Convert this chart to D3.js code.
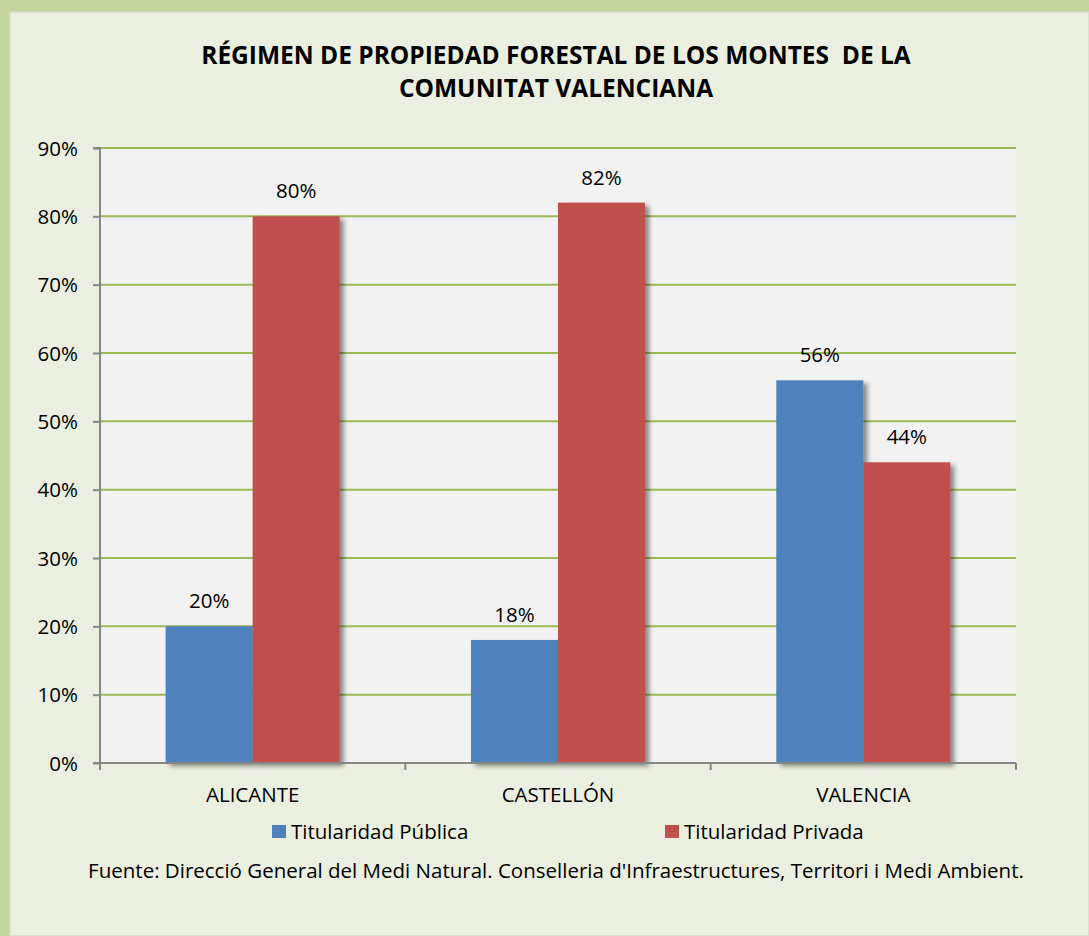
<!DOCTYPE html>
<html><head><meta charset="utf-8">
<script src="https://cdn.jsdelivr.net/npm/d3@7"></script>
<style>body{margin:0;background:#c3d69b;} svg{display:block;font-family:"Open Sans",sans-serif;}</style>
</head><body>
<script>
const categories = ["ALICANTE", "CASTELLÓN", "VALENCIA"];
const seriesNames = ["Titularidad Pública", "Titularidad Privada"];
const publica = [20, 18, 56];
const privada = [80, 82, 44];
const yTicks = [0, 10, 20, 30, 40, 50, 60, 70, 80, 90];
const titleLines = ["RÉGIMEN DE PROPIEDAD FORESTAL DE LOS MONTES  DE LA", "COMUNITAT VALENCIANA"];
const source = "Fuente: Direcció General del Medi Natural. Conselleria d'Infraestructures, Territori i Medi Ambient.";
const colors = ["#4f81bd", "#c0504d"];

const W = 1089, H = 936;
const FS = 20.5;
const svg = d3.select("body").append("svg").attr("width", W).attr("height", H);
const defs = svg.append("defs");
const f = defs.append("filter").attr("id","sh").attr("x","-20%").attr("y","-20%").attr("width","150%").attr("height","150%");
f.append("feGaussianBlur").attr("in","SourceAlpha").attr("stdDeviation",2.5).attr("result","b");
f.append("feOffset").attr("in","b").attr("dx",4).attr("dy",3).attr("result","o");
f.append("feComponentTransfer").attr("in","o").attr("result","o2").append("feFuncA").attr("type","linear").attr("slope",0.45);
const m = f.append("feMerge"); m.append("feMergeNode").attr("in","o2"); m.append("feMergeNode").attr("in","SourceGraphic");

svg.append("rect").attr("width",W).attr("height",H).attr("fill","#c3d69b");
svg.append("rect").attr("x",10).attr("y",12).attr("width",W-10).attr("height",H-12).attr("fill","#ebefdf").attr("stroke","#d6dacb").attr("stroke-width",1.5);

const plot = {l:100, r:1016, t:148, b:763};
svg.append("rect").attr("x",plot.l).attr("y",plot.t).attr("width",plot.r-plot.l).attr("height",plot.b-plot.t).attr("fill","#f2f2f2");

const y = d3.scaleLinear().domain([0,90]).range([plot.b, plot.t]);
const x0 = d3.scaleBand().domain(categories).range([plot.l, plot.r]).paddingInner(0).paddingOuter(0);
const groupPad = 0.215;
const x1 = d3.scaleBand().domain([0,1]).range([x0.bandwidth()*groupPad, x0.bandwidth()*(1-groupPad)]);

// gridlines
svg.append("g").selectAll("line").data(yTicks.filter(d=>d>0)).join("line")
  .attr("x1",plot.l).attr("x2",plot.r).attr("y1",d=>y(d)).attr("y2",d=>y(d))
  .attr("stroke","#9bbb59").attr("stroke-width",2);

// bars
const data = categories.map((c,i)=>({c, v:[publica[i], privada[i]]}));
const g = svg.append("g");
data.forEach(d=>{
  d.v.forEach((v,j)=>{
    g.append("rect").attr("x",x0(d.c)+x1(j)).attr("y",y(v)).attr("width",x1.bandwidth()).attr("height",y(0)-y(v))
      .attr("fill",colors[j]).attr("filter","url(#sh)");
  });
});
data.forEach(d=>{
  d.v.forEach((v,j)=>{
    svg.append("text").attr("x",x0(d.c)+x1(j)+x1.bandwidth()/2).attr("y",y(v)-18)
      .attr("text-anchor","middle").attr("font-size",FS).attr("fill","#000").text(v+"%");
  });
});

// y axis
const yAxis = d3.axisLeft(y).tickValues(yTicks).tickFormat(d=>d+"%").tickSize(7).tickPadding(15);
const ya = svg.append("g").attr("transform",`translate(${plot.l},0)`).call(yAxis);
ya.select(".domain").attr("stroke","#868686").attr("stroke-width",2).attr("d",`M-7,${plot.t}H0V${plot.b}H-7`);
ya.selectAll(".tick line").attr("stroke","#868686").attr("stroke-width",2);
ya.selectAll(".tick text").attr("font-size",FS).attr("fill","#000").attr("font-family","'Open Sans',sans-serif").attr("dy","0.35em");

// x axis
const xa = svg.append("g").attr("transform",`translate(0,${plot.b})`);
xa.append("line").attr("x1",plot.l).attr("x2",plot.r).attr("stroke","#868686").attr("stroke-width",2);
const bounds = [plot.l, ...categories.map(c=>x0(c)+x0.bandwidth())];
xa.selectAll("line.t").data(bounds).join("line").attr("class","t").attr("x1",d=>d).attr("x2",d=>d).attr("y1",0).attr("y2",7).attr("stroke","#868686").attr("stroke-width",2);
xa.selectAll("text").data(categories).join("text").attr("x",d=>x0(d)+x0.bandwidth()/2).attr("y",39)
  .attr("text-anchor","middle").attr("font-size",FS).attr("fill","#000").text(d=>d);

// title
svg.append("g").selectAll("text").data(titleLines).join("text")
  .attr("x",556).attr("y",(d,i)=>64+i*33).attr("text-anchor","middle").attr("font-weight","bold").attr("font-size",24.5)
  .attr("fill","#000").attr("xml:space","preserve").text(d=>d);

// legend
const legX = [272, 665];
seriesNames.forEach((s,i)=>{
  svg.append("rect").attr("x",legX[i]).attr("y",825).attr("width",14).attr("height",13).attr("fill",colors[i]);
  svg.append("text").attr("x",legX[i]+19).attr("y",838.5).attr("font-size",FS).attr("fill","#000").text(s);
});

// source
svg.append("text").attr("x",556).attr("y",878).attr("text-anchor","middle").attr("font-size",FS).attr("fill","#000").text(source);
</script>
</body></html>
